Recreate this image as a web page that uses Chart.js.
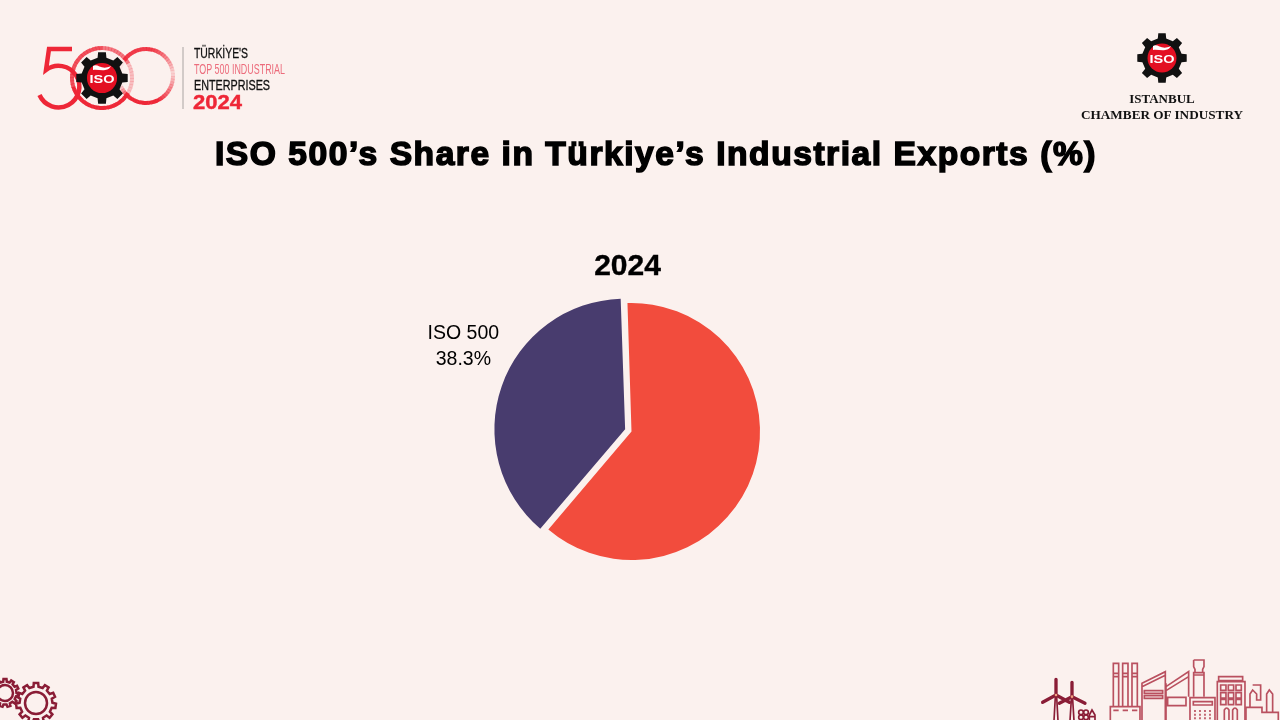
<!DOCTYPE html>
<html>
<head>
<meta charset="utf-8">
<title>ISO 500 share</title>
<script src="https://cdn.jsdelivr.net/npm/chart.js@4"></script>
<style>
  html, body { margin: 0; padding: 0; width: 1280px; height: 720px; overflow: hidden; background: #FBF1EE; }
  canvas, svg { position: absolute; left: 0; top: 0; }
  text { font-family: "Liberation Sans", Arial, sans-serif; }
  .serif { font-family: "Liberation Serif", serif; font-weight: bold; }
  .line { fill: none; stroke: #B9505F; stroke-width: 5; }
  .dark { fill: none; stroke: #8A1D36; stroke-linecap: round; }
</style>
</head>
<body>
<canvas id="pie" width="1280" height="720"></canvas>

<svg id="deco" width="1280" height="720" viewBox="0 0 1280 720">
  <!-- top left logo -->
  <path d="M72 49H49L46 70A20.8 20.8 0 1 1 39.5 95" fill="none" stroke="#EE2737" stroke-width="4.5"/>
  <g id="rings"></g>
  <g id="gearLeft"></g>
  <path d="M93 66C98 63 101 71 111 66C107 73 99 69 93 70Z" fill="#fff"/>
  <text x="102" y="83" text-anchor="middle" font-size="11" font-weight="bold" fill="#fff" textLength="25" lengthAdjust="spacingAndGlyphs">ISO</text>
  <line x1="183" y1="47" x2="183" y2="109" stroke="#A9A4A2" stroke-width="1"/>
  <text x="194" y="58" font-size="14" fill="#111" stroke="#111" stroke-width="0.3" textLength="54" lengthAdjust="spacingAndGlyphs">TÜRKİYE'S</text>
  <text x="194" y="74" font-size="14" fill="#EC6C7C" textLength="91" lengthAdjust="spacingAndGlyphs">TOP 500 INDUSTRIAL</text>
  <text x="194" y="90" font-size="14" fill="#111" stroke="#111" stroke-width="0.3" textLength="76" lengthAdjust="spacingAndGlyphs">ENTERPRISES</text>
  <text x="193" y="109" font-size="20" font-weight="bold" fill="#EE2737" stroke="#EE2737" stroke-width="0.4" textLength="49" lengthAdjust="spacingAndGlyphs">2024</text>

  <!-- top right logo -->
  <g id="gearRight"></g>
  <path d="M1153 46C1158 43 1161 51 1171 46C1167 53 1159 49 1153 50Z" fill="#fff"/>
  <text x="1162" y="63" text-anchor="middle" font-size="11" font-weight="bold" fill="#fff" textLength="25" lengthAdjust="spacingAndGlyphs">ISO</text>
  <text class="serif" x="1162" y="103" text-anchor="middle" font-size="13" fill="#111">ISTANBUL</text>
  <text class="serif" x="1162" y="119" text-anchor="middle" font-size="13" fill="#111" textLength="162" lengthAdjust="spacingAndGlyphs">CHAMBER OF INDUSTRY</text>

  <!-- heading -->
  <text x="656" y="165" text-anchor="middle" font-size="33" font-weight="bold" letter-spacing="1.5" fill="#000" stroke="#000" stroke-width="1.5" textLength="882" lengthAdjust="spacingAndGlyphs" id="heading">ISO 500’s Share in Türkiye’s Industrial Exports (%)</text>
  <text x="627.5" y="275" text-anchor="middle" font-size="30" font-weight="bold" fill="#000" stroke="#000" stroke-width="0.4" id="year">2024</text>

  <!-- bottom left gears -->
  <g id="gearsBottom"></g>

  <!-- bottom right skyline -->
  <g transform="translate(1030,650) scale(0.3333)">
    <g class="line">
      <path d="M250 170V40H266V170 M278 170V40H294V170 M306 170V40H322V170 M250 70H266 M278 70H294 M306 70H322 M250 80H266 M278 80H294 M306 80H322"/>
      <path d="M241 212V170H330V212 M250 181H266 M278 181H294 M306 181H322"/>
      <path d="M336 212V100L406 65V212 M336 110L406 76 M343 122H398V130H343Z M343 137H398V145H343Z"/>
      <path d="M408 110L476 65V140 M408 100V212 M413 142H468V167H413Z M408 122L476 80"/>
      <path d="M491 140V68H522V140 M491 30H522V50L518 58V68 M491 30V50L495 58V68 M491 75H522"/>
      <path d="M480 212V143H555V212 M490 155H547V165H490Z"/>
      <path d="M495 180V210 M510 180V210 M525 180V210 M540 180V210" stroke-dasharray="6 5"/>
      <path d="M562 212V95H645V212 M566 80H638V92H566Z"/>
      <path d="M572 105h16v16h-16z M595 105h16v16h-16z M618 105h16v16h-16z M572 128h16v16h-16z M595 128h16v16h-16z M618 128h16v16h-16z M572 148h16v16h-16z M595 148h16v16h-16z M618 148h16v16h-16z"/>
      <path d="M583 212V180Q590 168 597 180V212 M608 212V180Q615 168 622 180V212"/>
      <path d="M648 212V172H696V187H745V212 M660 172V132L668 120L680 132V150H692V105H668 M710 187V132L718 120L728 132V187"/>
    </g>
    <g class="dark" stroke-width="10">
      <path d="M78 88V135L38 157 M78 135L118 157 M126 97V140L88 160 M126 140L165 160"/>
      <path d="M72 212L76 140 M84 212L80 140 M120 212L124 148 M132 212L128 148" stroke-width="5"/>
    </g>
    <g fill="none" stroke="#8A1D36" stroke-width="5">
      <circle cx="153" cy="187" r="7"/><circle cx="168" cy="187" r="7"/>
      <circle cx="153" cy="202" r="7"/><circle cx="168" cy="202" r="7"/>
      <path d="M178 212V195L186 180L195 195V212 M178 200H195"/>
    </g>
    <circle cx="78" cy="135" r="4" fill="#F2A07F"/><circle cx="126" cy="140" r="4" fill="#F2A07F"/>
  </g>
</svg>

<script>
// values
const categories = ['Others', 'ISO 500'];
const shares = [61.7, 38.3];
const sliceColors = ['#F24C3D', '#483C6E'];
const sliceOffsets = [0, 27];
const shownLabels = [false, true];

// label for a slice, written next to it
const sliceLabels = {
  id: 'sliceLabels',
  afterDatasetsDraw(chart) {
    const ctx = chart.ctx;
    chart.getDatasetMeta(0).data.forEach((arc, i) => {
      if (!shownLabels[i]) return;
      const p = arc.getProps(['x', 'y', 'startAngle', 'endAngle', 'outerRadius'], true);
      const mid = (p.startAngle + p.endAngle) / 2 + 0.133;
      const dist = p.outerRadius + 60;
      const cx = p.x + Math.cos(mid) * dist;
      const cy = p.y + Math.sin(mid) * dist;
      ctx.save();
      ctx.font = '19.5px "Liberation Sans", Arial, sans-serif';
      ctx.fillStyle = '#000';
      ctx.textAlign = 'center';
      ctx.textBaseline = 'middle';
      ctx.fillText(categories[i], cx, cy - 13);
      ctx.fillText(shares[i].toFixed(1) + '%', cx, cy + 13);
      ctx.restore();
    });
  }
};

new Chart(document.getElementById('pie').getContext('2d'), {
  type: 'pie',
  data: {
    labels: categories,
    datasets: [{
      data: shares,
      backgroundColor: sliceColors,
      offset: sliceOffsets,
      borderWidth: 0,
      radius: 128.5,
      rotation: -1.8
    }]
  },
  options: {
    responsive: false,
    animation: false,
    layout: { padding: { top: 143, right: 17 } },
    plugins: { legend: { display: false }, tooltip: { enabled: false } }
  },
  plugins: [sliceLabels]
});

// logo gears
function gearPath(cx, cy, outer, inner, teeth) {
  let d = '';
  const step = Math.PI * 2 / teeth;
  for (let i = 0; i < teeth; i++) {
    const a = i * step - Math.PI / 2;
    const pts = [[inner, a - step * 0.27], [outer, a - step * 0.19], [outer, a + step * 0.19], [inner, a + step * 0.27]];
    pts.forEach((p, j) => {
      const x = cx + Math.cos(p[1]) * p[0], y = cy + Math.sin(p[1]) * p[0];
      d += (i === 0 && j === 0 ? 'M' : 'L') + x.toFixed(1) + ' ' + y.toFixed(1);
    });
  }
  return d + 'Z';
}

function logoGear(id, cx, cy, outer) {
  document.getElementById(id).innerHTML =
    `<path d="${gearPath(cx, cy, outer, outer * 0.8, 8)}" fill="#111"/>` +
    `<circle cx="${cx}" cy="${cy}" r="${outer * 0.58}" fill="#E30F22"/>`;
}
logoGear('gearLeft', 102, 78, 26);
logoGear('gearRight', 1162, 58, 25);

function lineGear(cx, cy, outer, hole) {
  return `<path d="${gearPath(cx, cy, outer, outer * 0.82, 11)}" fill="none" stroke="#8A1D36" stroke-width="2.5"/>` +
    `<circle cx="${cx}" cy="${cy}" r="${hole}" fill="none" stroke="#8A1D36" stroke-width="2.5"/>`;
}
document.getElementById('gearsBottom').innerHTML = lineGear(36, 703, 20, 11) + lineGear(5, 693, 14, 8);

// logo rings, fading in and out around the circle (angle in degrees, clockwise from top)
function fadedRing(cx, cy, r, fade) {
  let out = '';
  for (let deg = 0; deg < 360; deg += 6) {
    const a = (deg - 90) * Math.PI / 180, b = (deg + 7 - 90) * Math.PI / 180;
    out += `<path d="M${cx + Math.cos(a) * r} ${cy + Math.sin(a) * r}A${r} ${r} 0 0 1 ${cx + Math.cos(b) * r} ${cy + Math.sin(b) * r}" ` +
      `fill="none" stroke="#EE2737" stroke-width="4" stroke-opacity="${fade(deg)}"/>`;
  }
  return out;
}
const rightRingFade = deg => (deg < 10 || deg > 300) ? 0.9 : deg < 80 ? 0.9 - (deg - 10) * 0.011 : deg < 150 ? 0.13 + (deg - 80) * 0.012 : deg < 215 ? 1 : Math.max(0.05, 1 - (deg - 215) * 0.03);
const middleRingFade = deg => deg < 60 ? 0.6 : deg < 120 ? 0.25 : deg < 250 ? 1 : 0.8;
document.getElementById('rings').innerHTML = fadedRing(102, 78, 30, middleRingFade) + fadedRing(146, 76, 27, rightRingFade);
</script>
</body>
</html>
